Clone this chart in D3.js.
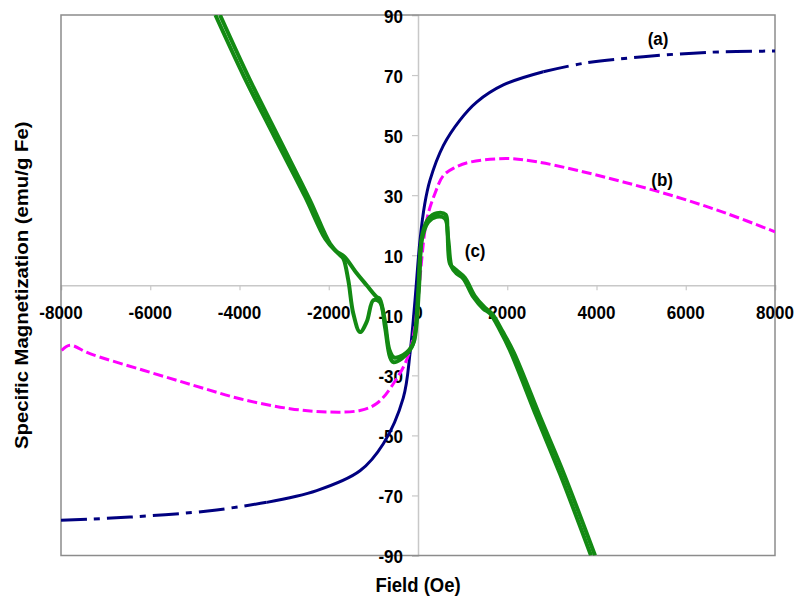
<!DOCTYPE html>
<html>
<head>
<meta charset="utf-8">
<script src="https://cdn.jsdelivr.net/npm/d3@7"></script>
<style>
  body { margin: 0; background: #fff; }
  text { font-family: "Liberation Sans", Arial, sans-serif; font-weight: bold; fill: #000; }
</style>
</head>
<body>
<div id="chart"></div>
<script>
// field (Oe) and specific magnetization (emu/g Fe)
const xTicks = [-8000, -6000, -4000, -2000, 0, 2000, 4000, 6000, 8000]
const yTicks = [90, 70, 50, 30, 10, -10, -30, -50, -70, -90]

// (a)
const seriesA = [
  [-8000, -78.3], [-6454, -77.2], [-4661, -75.1], [-3391, -72.3], [-2270, -68.4],
  [-1300, -61.8], [-777, -52.8], [-330, -37.5], [-179, -22.7], [-67, -5],
  [45, 15], [150, 27], [269, 35], [567, 46.5], [941, 55], [1315, 61],
  [1912, 66.7], [2808, 71.1], [3705, 73.9], [5049, 76.1], [6544, 77.6], [8000, 78]
]
// (b)
const seriesB = [
  [-7985, -21.7], [-7799, -20], [-7351, -22.8], [-6156, -28.3], [-5036, -33.3],
  [-3989, -37.8], [-2869, -41.1], [-2046, -42.2], [-1300, -41.7], [-926, -39.4],
  [-553, -32.8], [-179, -21.7], [195, 21.7], [381, 30.6], [567, 36.5], [800, 39],
  [1165, 41], [1988, 42.2], [2660, 41.1], [3556, 38.3], [4601, 34.4],
  [5797, 29.4], [6918, 23.9], [8000, 17.8]
]
// (c) outgoing branch then return branch
const seriesC1 = [
  [-4437, 90], [-3765, 68.3], [-3093, 48.3], [-2420, 28.3], [-1972, 13.9],
  [-1748, 10], [-1674, 8.9], [-1562, 1.7], [-1450, -9.4], [-1300, -15.6],
  [-1150, -12.2], [-1001, -5], [-852, -5.6], [-740, -13.9], [-628, -23.9],
  [-553, -25.6], [-366, -24.4], [-141, -20.6], [-67, -16.1], [7, -1.7],
  [83, 15], [231, 21.1], [418, 22.8], [605, 22.2], [680, 15], [755, 6.1],
  [867, 3.9], [1016, 2.2], [1240, -3.9], [1464, -7.8], [1613, -9.4],
  [1838, -15], [2062, -21.7], [2660, -43.9], [3182, -62.8], [3877, -90]
]
const seriesC2 = [
  [3967, -90], [3275, -63], [2755, -44.5], [2150, -22.5], [1900, -15.5],
  [1660, -9.5], [1500, -7.5], [1270, -3.5], [1050, 2.5], [820, 5.5],
  [720, 7], [660, 18], [620, 23.5], [420, 24], [240, 22.3], [100, 17],
  [25, 0], [-40, -14], [-110, -19.5], [-330, -23.2], [-540, -24],
  [-640, -21.5], [-740, -12], [-860, -4.5], [-926, -3.9], [-1150, 0],
  [-1400, 4.5], [-1650, 9.5], [-1850, 11.5], [-2080, 15.5], [-2530, 29.5],
  [-3220, 49.5], [-3900, 69.5], [-4540, 90]
]
const curveLabels = [['(a)', 5380, 82], ['(b)', 5470, 35], ['(c)', 1280, 11.5]]

const W = 800, H = 602
const m = {left: 61, right: 775, top: 15, bottom: 555.5}
const stretch = 1.13

const x = d3.scaleLinear().domain([-8000, 8000]).range([m.left, m.right])
const y = d3.scaleLinear().domain([-90, 90]).range([m.bottom, m.top])

const svg = d3.select('#chart').append('svg')
  .attr('width', W).attr('height', H)

svg.append('defs').append('clipPath').attr('id', 'plot')
  .append('rect')
  .attr('x', m.left).attr('y', m.top)
  .attr('width', m.right - m.left).attr('height', m.bottom - m.top)

// axes crossing at the origin
svg.append('g').attr('transform', `translate(0,${y(0)})`)
  .call(d3.axisBottom(x).tickValues(xTicks).tickSize(5).tickFormat(''))
svg.append('g').attr('transform', `translate(${x(0)},0)`)
  .call(d3.axisLeft(y).tickValues(yTicks).tickSize(6).tickFormat(''))
svg.selectAll('.domain').attr('stroke', '#c8c8c8').attr('stroke-width', 1.5)
svg.selectAll('.tick line').attr('stroke', '#c8c8c8').attr('stroke-width', 1.2)

svg.append('rect')
  .attr('x', m.left).attr('y', m.top)
  .attr('width', m.right - m.left).attr('height', m.bottom - m.top)
  .attr('fill', 'none').attr('stroke', '#8c8c8c').attr('stroke-width', 1.5)

function label(txt, px, py, size, anchor) {
  svg.append('text')
    .attr('transform', `translate(${px},${py}) scale(1,${stretch})`)
    .attr('text-anchor', anchor || 'middle')
    .style('font-size', size + 'px')
    .text(txt)
}
xTicks.forEach(v => label(v, x(v), 319, 17))
yTicks.forEach(v => label(v, 403, y(v) + 7.5, 17, 'end'))

label('Field (Oe)', x(0), 592, 18.5)
svg.append('text')
  .attr('transform', `translate(28,${(m.top + m.bottom) / 2}) rotate(-90) scale(${stretch},1)`)
  .attr('text-anchor', 'middle')
  .style('font-size', '18px')
  .text('Specific Magnetization (emu/g Fe)')

const line = d3.line().x(d => x(d[0])).y(d => y(d[1])).curve(d3.curveCatmullRom)
const plot = svg.append('g').attr('clip-path', 'url(#plot)')

// (a): solid in the middle, dash-dot at the ends
const aLeft = seriesA.filter(d => d[0] <= -3391)
const aMid = seriesA.filter(d => d[0] >= -3391 && d[0] <= 2808)
const aRight = seriesA.filter(d => d[0] >= 2808)
;[aLeft, aMid, aRight].forEach((seg, i) => {
  plot.append('path').datum(seg)
    .attr('d', line)
    .attr('fill', 'none')
    .attr('stroke', '#000080')
    .attr('stroke-width', 3)
    .attr('stroke-dasharray', i === 1 ? null : '26,7,6,7')
})

plot.append('path').datum(seriesB)
  .attr('d', line)
  .attr('fill', 'none')
  .attr('stroke', '#ff00ff')
  .attr('stroke-width', 3)
  .attr('stroke-dasharray', '10,4')

;[seriesC1, seriesC2].forEach(seg => {
  plot.append('path').datum(seg)
    .attr('d', line)
    .attr('fill', 'none')
    .attr('stroke', '#138a13')
    .attr('stroke-width', 4)
    .attr('stroke-linejoin', 'round')
})

curveLabels.forEach(d => label(d[0], x(d[1]), y(d[2]) + 6, 17))
</script>
</body>
</html>
